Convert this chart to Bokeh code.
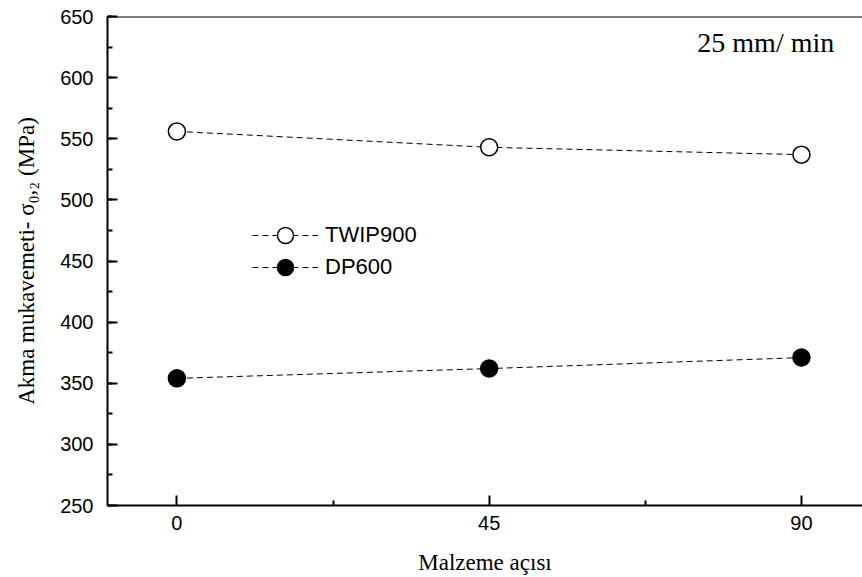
from bokeh.plotting import figure
from bokeh.models import (Range1d, FixedTicker, SingleIntervalTicker, Legend,
                          LegendItem, Label, Span)
from bokeh.embed import file_html
from bokeh.resources import INLINE

# ---- data ----
angles = [0, 45, 90]
twip900 = [556, 543, 537]
dp600 = [354, 362, 371]
x_ticks = [0, 45, 90]
x_minor_ticks = [22.5, 67.5]
series_names = ["TWIP900", "DP600"]

p = figure(width=862, height=577, output_backend="svg", toolbar_location=None,
           x_range=Range1d(-10, 98.8), y_range=Range1d(250, 650),
           min_border_left=107, min_border_right=0, min_border_top=16,
           min_border_bottom=70)
p.outline_line_color = None
p.grid.visible = False
p.background_fill_color = "white"
p.border_fill_color = "white"

# axes
xa = p.xaxis[0]
ya = p.yaxis[0]
xa.ticker = FixedTicker(ticks=x_ticks, minor_ticks=x_minor_ticks)
ya.ticker = SingleIntervalTicker(interval=50, num_minor_ticks=2)
for ax in (xa, ya):
    ax.axis_line_width = 2
    ax.axis_line_color = "black"
    ax.major_tick_in = 10
    ax.major_tick_out = 0
    ax.minor_tick_in = 5
    ax.minor_tick_out = 0
    ax.major_tick_line_width = 2
    ax.minor_tick_line_width = 2
    ax.major_tick_line_color = "black"
    ax.minor_tick_line_color = "black"
    ax.major_label_text_font = "Liberation Sans"
    ax.major_label_text_font_size = "20px"
    ax.major_label_text_color = "black"
    ax.axis_label_text_font = "Liberation Serif"
    ax.axis_label_text_font_style = "normal"
    ax.axis_label_text_color = "black"
xa.axis_label = "Malzeme açısı"
ya.axis_label = "Akma mukavemeti- σ₀,₂ (MPa)"
xa.axis_label_text_font_size = "23px"
ya.axis_label_text_font_size = "23px"
xa.major_label_standoff = 10
xa.axis_label_standoff = 17
ya.major_label_standoff = 14
ya.axis_label_standoff = 18

p.add_layout(Span(location=650, dimension="width", line_color="black", line_width=2))

l1 = p.line(angles, twip900, line_dash="6 4", line_color="black", line_width=1)
s1 = p.scatter(angles, twip900, marker="circle", size=17, fill_color="white",
               line_color="black", line_width=1.5)
l2 = p.line(angles, dp600, line_dash="6 4", line_color="black", line_width=1)
s2 = p.scatter(angles, dp600, marker="circle", size=17, fill_color="black",
               line_color="black", line_width=1.5)

legend_style = dict(glyph_width=66, glyph_height=40, spacing=0, padding=0, margin=0,
                    border_line_color=None, background_fill_alpha=0,
                    label_text_font="Liberation Sans", label_text_font_size="22px",
                    label_standoff=7, label_text_color="black")
leg1 = Legend(items=[LegendItem(label=series_names[0], renderers=[l1, s1])],
              location=(145, 250), **legend_style)
leg2 = Legend(items=[LegendItem(label=series_names[1], renderers=[l2, s2])],
              location=(145, 218), **legend_style)
p.add_layout(leg1)
p.add_layout(leg2)

p.add_layout(Label(x=75, y=629, text="25 mm/ min", text_font="Liberation Serif",
                   text_font_size="28px", text_baseline="middle",
                   text_color="black"))

open("out.html", "w").write(file_html(p, INLINE))
